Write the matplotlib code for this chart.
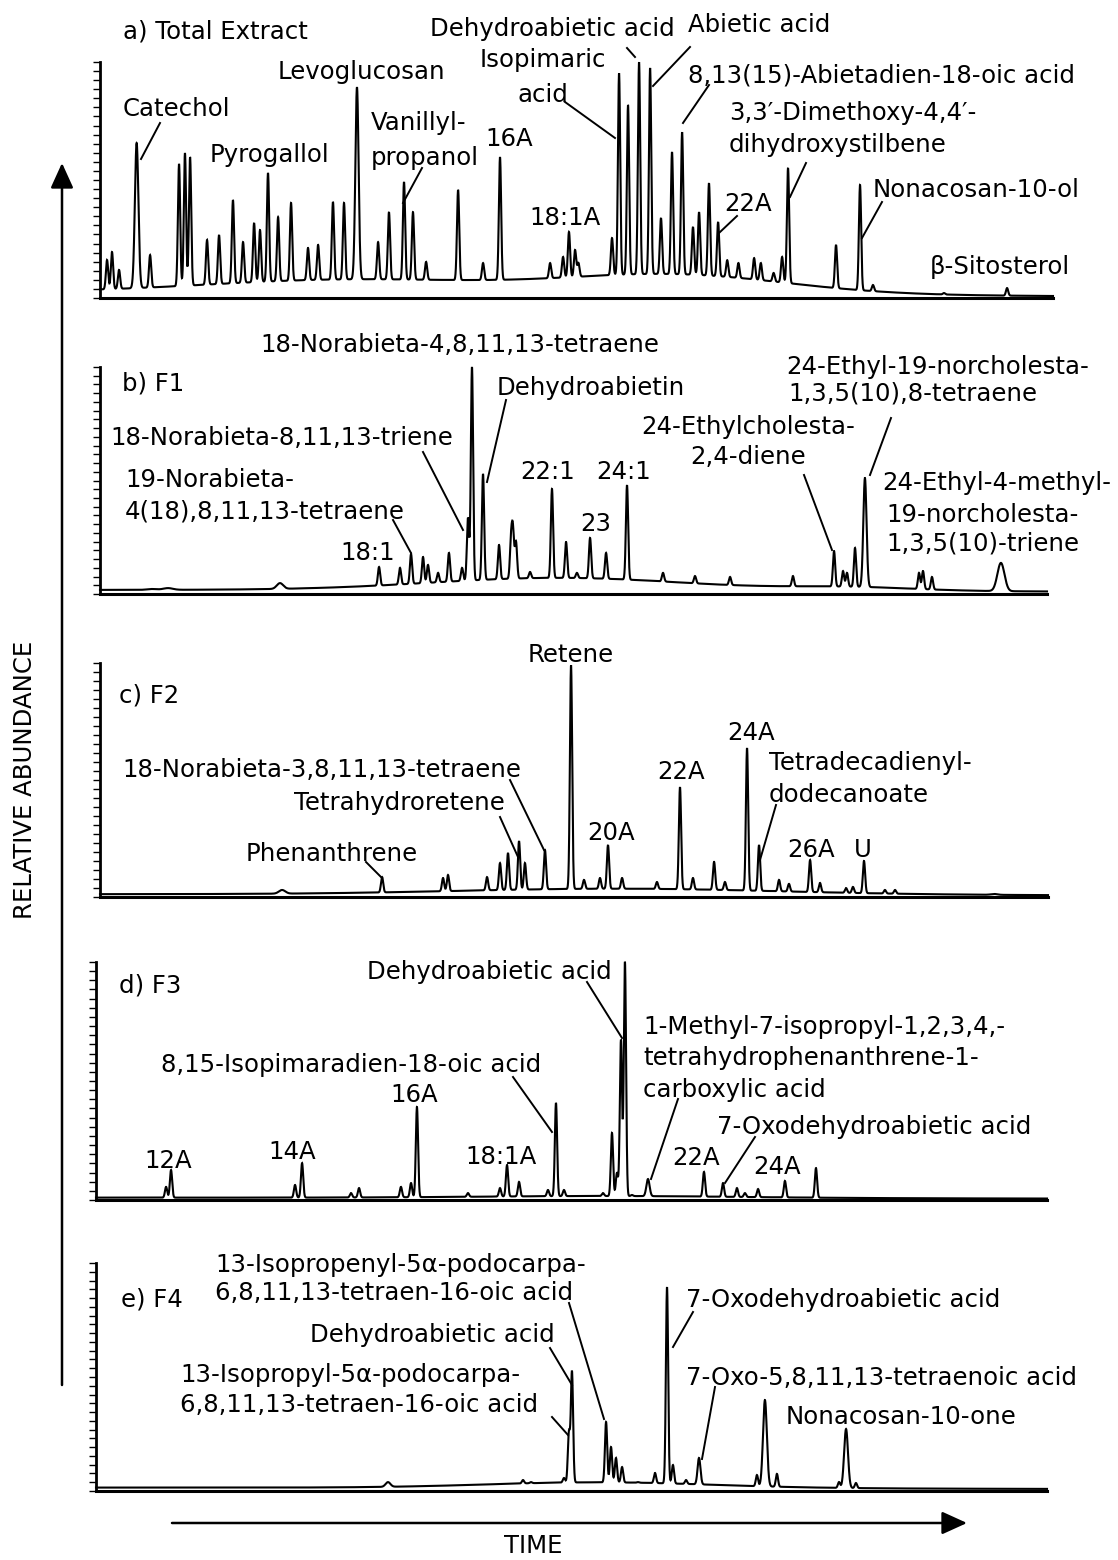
import numpy as np
import matplotlib
matplotlib.use("Agg")
import matplotlib.pyplot as plt
from matplotlib.lines import Line2D
from matplotlib.patches import FancyArrowPatch

plt.rcParams["font.family"] = ["DejaVu Sans"]

# ---------------------------------------------------------------------------
# Peak tables: retention time (min), apex height (% of panel full scale)
# ---------------------------------------------------------------------------
# a) Total extract
A_TIME = [0.44, 0.75, 1.19, 2.29, 3.13, 4.94, 5.31, 5.63, 6.69, 7.44,
          8.31, 8.94, 9.63, 10.0, 10.5, 11.13, 11.94, 13.0, 13.63, 14.56,
          15.25, 16.06, 17.38, 18.06, 19.0, 19.56, 20.38, 22.38, 23.94, 25.0,
          28.13, 28.94, 29.31, 29.69, 29.9, 32.0, 32.44, 33.0, 33.69, 34.38,
          35.06, 35.75, 36.38, 37.06, 37.44, 38.06, 38.63, 39.2, 39.9, 40.88,
          41.3, 42.1, 42.63, 43.0, 46.0, 47.5, 48.31, 52.75, 56.69]
A_HEIGHT = [16.1, 19.5, 11.9, 65.7, 18.2, 56.8, 61.4, 59.7, 24.6, 26.7,
            41.5, 23.7, 31.8, 28.8, 53.0, 34.3, 40.3, 21.2, 22.5, 40.7,
            40.3, 89.4, 23.7, 36.4, 49.2, 36.4, 15.3, 45.8, 14.8, 59.7,
            14.8, 17.4, 28.0, 20.3, 14.8, 25.4, 95.3, 81.8, 100.0, 97.5,
            33.9, 61.9, 70.3, 30.1, 36.4, 48.7, 32.2, 16.0, 14.8, 16.9,
            14.8, 10.6, 17.4, 55.1, 22.5, 47.9, 5.5, 2.1, 4.2]
A_BROAD = {2.29: 0.11, 16.06: 0.1}
A_BG_CENTER = [0.0, 16.0, 36.0]
A_BG_WIDTH = [40.0, 9.0, 7.0]
A_BG_HEIGHT = [2.5, 5.5, 8.0]

# b) F1
B_TIME = [3.25, 4.25, 11.25, 13.1, 17.44, 18.75, 19.44, 20.19, 20.5, 21.13,
          21.81, 22.63, 23.0, 23.25, 23.94, 24.94, 25.69, 25.81, 26.0, 26.88,
          28.25, 29.13, 29.81, 30.63, 31.63, 32.94, 35.19, 37.19, 39.38, 43.31,
          45.88, 46.44, 46.69, 47.19, 47.81, 51.19, 51.44, 52.0, 56.31]
B_HEIGHT = [2.2, 2.6, 4.8, 2.6, 11.9, 11.5, 17.6, 16.3, 12.8, 9.3,
            18.1, 11.5, 33.5, 100.0, 52.9, 21.6, 22.9, 26.9, 22.9, 9.7,
            46.3, 22.9, 9.3, 24.7, 18.1, 48.0, 9.3, 7.9, 7.5, 7.9,
            18.9, 10.1, 9.3, 20.3, 51.1, 9.3, 10.1, 7.5, 13.7]
B_BROAD = {3.25: 0.3, 4.25: 0.3, 11.25: 0.2, 13.1: 0.3, 47.81: 0.1, 56.31: 0.22}
B_BG_CENTER = [0.0, 28.75, 47.0]
B_BG_WIDTH = [60.0, 8.0, 4.0]
B_BG_HEIGHT = [1.8, 5.5, 1.5]

# c) F2
C_TIME = [11.38, 17.63, 21.44, 21.75, 24.19, 25.0, 25.5, 26.19, 26.56, 27.81,
          29.44, 30.25, 31.25, 31.75, 32.63, 34.81, 36.25, 37.06, 38.38, 39.06,
          40.44, 41.19, 42.44, 43.06, 44.38, 45.0, 46.63, 47.06, 47.75, 49.06,
          49.69, 55.88]
C_HEIGHT = [3.0, 8.5, 8.1, 9.4, 8.5, 14.5, 18.8, 23.9, 14.5, 20.1,
            99.1, 7.3, 8.1, 22.2, 8.1, 6.4, 47.0, 8.1, 15.0, 6.4,
            63.7, 22.2, 7.3, 5.6, 15.8, 6.0, 3.8, 4.3, 15.4, 3.0,
            3.0, 1.3]
C_BROAD = {11.38: 0.2, 55.88: 0.2}
C_BG_CENTER = [0.0, 32.5]
C_BG_WIDTH = [60.0, 10.0]
C_BG_HEIGHT = [1.2, 2.5]

# d) F3
D_TIME = [4.13, 4.44, 12.19, 12.63, 15.69, 16.19, 18.81, 19.44, 19.81, 23.0,
          25.0, 25.44, 26.19, 28.0, 28.5, 29.0, 31.44, 32.0, 32.31, 32.56,
          32.81, 33.25, 34.25, 37.75, 38.94, 39.81, 40.31, 41.13, 42.81, 44.75]
D_HEIGHT = [5.5, 12.6, 6.3, 15.5, 2.9, 5.0, 5.5, 7.1, 39.1, 2.9,
            5.0, 14.7, 7.6, 4.2, 40.8, 4.2, 2.9, 28.2, 11.3, 67.2,
            100.0, 2.1, 8.8, 11.8, 7.1, 5.0, 2.9, 4.6, 8.0, 13.4]
D_BROAD = {34.25: 0.1}
D_BG_CENTER = [0.0, 32.0]
D_BG_WIDTH = [60.0, 8.0]
D_BG_HEIGHT = [1.0, 0.8]

# e) F4
E_TIME = [18.0, 26.44, 26.94, 27.5, 29.0, 29.31, 29.5, 31.63, 31.94, 32.25,
          32.63, 33.63, 34.69, 35.44, 35.81, 36.63, 37.44, 41.06, 41.56, 42.31,
          46.19, 46.63, 47.25]
E_HEIGHT = [3.9, 4.8, 3.9, 3.5, 5.7, 25.4, 52.2, 30.3, 19.3, 14.5,
            10.5, 3.9, 7.9, 89.5, 11.4, 4.8, 14.5, 7.0, 39.9, 7.5,
            3.9, 27.2, 3.5]
E_BROAD = {18.0: 0.15, 41.56: 0.12, 46.63: 0.12, 37.44: 0.09}
E_BG_CENTER = [0.0, 31.25]
E_BG_WIDTH = [60.0, 7.0]
E_BG_HEIGHT = [1.5, 2.5]

PEAK_WIDTH = 0.07   # default Gaussian sigma of a peak, min

W, H = 1118, 1560
fig = plt.figure(figsize=(W / 100, H / 100), dpi=100)
fig.patch.set_facecolor("white")


def P(x, y):
    """Canvas pixel position -> figure fraction."""
    return x / W, 1 - y / H


def background(x, centers, widths, heights):
    x = np.asarray(x, dtype=float)
    out = np.zeros_like(x)
    for c, w, h in zip(centers, widths, heights):
        out += h * np.exp(-0.5 * ((x - c) / w) ** 2)
    return out


def chromatogram(t, times, heights, broad, bg):
    times = np.asarray(times, dtype=float)
    heights = np.asarray(heights, dtype=float)
    y = background(t, *bg)
    amps = heights - background(times, *bg)
    for ti, ai in zip(times, amps):
        wi = broad.get(float(ti), PEAK_WIDTH)
        y += ai * np.exp(-0.5 * ((t - ti) / wi) ** 2)
    return y


# panel frame: left, right, top, baseline (canvas px) and time range (min)
panels = [
    ((100, 1053, 62, 298), (0.0, 59.56), A_TIME, A_HEIGHT, A_BROAD,
     (A_BG_CENTER, A_BG_WIDTH, A_BG_HEIGHT)),
    ((100, 1047, 367, 594), (0.0, 59.19), B_TIME, B_HEIGHT, B_BROAD,
     (B_BG_CENTER, B_BG_WIDTH, B_BG_HEIGHT)),
    ((100, 1048, 663, 897), (0.0, 59.25), C_TIME, C_HEIGHT, C_BROAD,
     (C_BG_CENTER, C_BG_WIDTH, C_BG_HEIGHT)),
    ((96, 1047, 962, 1200), (-0.25, 59.19), D_TIME, D_HEIGHT, D_BROAD,
     (D_BG_CENTER, D_BG_WIDTH, D_BG_HEIGHT)),
    ((96, 1047, 1263, 1491), (-0.25, 59.19), E_TIME, E_HEIGHT, E_BROAD,
     (E_BG_CENTER, E_BG_WIDTH, E_BG_HEIGHT)),
]

for (l, r, top, base), xlim, times, heights, broad, bg in panels:
    ax = fig.add_axes([l / W, 1 - base / H, (r - l) / W, (base - top) / H])
    t = np.linspace(xlim[0], xlim[1], 14000)
    y = chromatogram(t, times, heights, broad, bg)
    ax.plot(t, y, color="black", lw=1.5, clip_on=False, solid_joinstyle="miter")
    ax.set_xlim(*xlim)
    ax.set_ylim(0, 100)
    for side in ("top", "right"):
        ax.spines[side].set_visible(False)
    ax.spines["left"].set_linewidth(2.0)
    ax.spines["bottom"].set_linewidth(2.2)
    ax.set_yticks(np.linspace(0, 100, 27))
    ax.set_xticks([])
    ax.tick_params(axis="y", direction="out", length=5, width=1.0,
                   labelleft=False)
    ax.patch.set_alpha(0)

FS = 17.6

# compound labels: text, x (px), y centre (px), alignment
labels = [
    # a
    ("a) Total Extract", 123, 32, "left"),
    ("Catechol", 123, 109, "left"),
    ("Levoglucosan", 278, 72, "left"),
    ("Pyrogallol", 210, 155, "left"),
    ("Vanillyl-", 371, 123, "left"),
    ("propanol", 371, 158, "left"),
    ("16A", 485, 139, "left"),
    ("18:1A", 529, 218, "left"),
    ("Isopimaric", 543, 60, "center"),
    ("acid", 543, 95, "center"),
    ("Dehydroabietic acid", 430, 29, "left"),
    ("Abietic acid", 688, 25, "left"),
    ("8,13(15)-Abietadien-18-oic acid", 688, 75, "left"),
    ("3,3\u2032-Dimethoxy-4,4\u2032-", 729, 113, "left"),
    ("dihydroxystilbene", 729, 145, "left"),
    ("22A", 724, 204, "left"),
    ("Nonacosan-10-ol", 873, 190, "left"),
    ("\u03b2-Sitosterol", 930, 267, "left"),
    # b
    ("b) F1", 122, 383, "left"),
    ("18-Norabieta-4,8,11,13-tetraene", 260, 345, "left"),
    ("Dehydroabietin", 497, 388, "left"),
    ("18-Norabieta-8,11,13-triene", 110, 438, "left"),
    ("19-Norabieta-", 125, 480, "left"),
    ("4(18),8,11,13-tetraene", 125, 512, "left"),
    ("18:1", 340, 553, "left"),
    ("22:1", 520, 472, "left"),
    ("23", 580, 524, "left"),
    ("24:1", 596, 472, "left"),
    ("24-Ethylcholesta-", 748, 427, "center"),
    ("2,4-diene", 748, 457, "center"),
    ("24-Ethyl-19-norcholesta-", 786, 367, "left"),
    ("1,3,5(10),8-tetraene", 788, 394, "left"),
    ("24-Ethyl-4-methyl-", 882, 483, "left"),
    ("19-norcholesta-", 886, 515, "left"),
    ("1,3,5(10)-triene", 886, 544, "left"),
    # c
    ("c) F2", 119, 695, "left"),
    ("Retene", 528, 655, "left"),
    ("18-Norabieta-3,8,11,13-tetraene", 122, 770, "left"),
    ("Tetrahydroretene", 294, 803, "left"),
    ("Phenanthrene", 246, 854, "left"),
    ("20A", 587, 833, "left"),
    ("22A", 657, 772, "left"),
    ("24A", 727, 733, "left"),
    ("Tetradecadienyl-", 769, 763, "left"),
    ("dodecanoate", 769, 795, "left"),
    ("26A", 787, 850, "left"),
    ("U", 854, 850, "left"),
    # d
    ("d) F3", 119, 985, "left"),
    ("Dehydroabietic acid", 367, 972, "left"),
    ("1-Methyl-7-isopropyl-1,2,3,4,-", 643, 1027, "left"),
    ("tetrahydrophenanthrene-1-", 643, 1058, "left"),
    ("carboxylic acid", 643, 1090, "left"),
    ("8,15-Isopimaradien-18-oic acid", 161, 1065, "left"),
    ("16A", 390, 1095, "left"),
    ("12A", 144, 1161, "left"),
    ("14A", 268, 1152, "left"),
    ("18:1A", 465, 1157, "left"),
    ("22A", 672, 1158, "left"),
    ("7-Oxodehydroabietic acid", 717, 1127, "left"),
    ("24A", 753, 1167, "left"),
    # e
    ("e) F4", 121, 1300, "left"),
    ("13-Isopropenyl-5\u03b1-podocarpa-", 215, 1265, "left"),
    ("6,8,11,13-tetraen-16-oic acid", 215, 1293, "left"),
    ("Dehydroabietic acid", 310, 1335, "left"),
    ("13-Isopropyl-5\u03b1-podocarpa-", 180, 1375, "left"),
    ("6,8,11,13-tetraen-16-oic acid", 180, 1405, "left"),
    ("7-Oxodehydroabietic acid", 686, 1300, "left"),
    ("7-Oxo-5,8,11,13-tetraenoic acid", 686, 1378, "left"),
    ("Nonacosan-10-one", 786, 1417, "left"),
]
for text, x, y, ha in labels:
    fig.text(*P(x, y), text, ha=ha, va="center", fontsize=FS, color="black")

# leader lines from labels to their peaks (px)
leaders = [
    (160, 123, 141, 159), (422, 168, 403, 203), (565, 102, 615, 138),
    (627, 48, 635, 57), (690, 47, 653, 86), (709, 85, 683, 123),
    (806, 163, 790, 197), (737, 216, 719, 233), (882, 202, 862, 238),
    (506, 400, 487, 482), (423, 452, 463, 530), (393, 520, 411, 553),
    (804, 475, 832, 550), (891, 418, 870, 475),
    (510, 780, 544, 850), (500, 817, 518, 857), (366, 862, 382, 878),
    (776, 805, 760, 860),
    (587, 982, 622, 1038), (678, 1099, 651, 1179), (513, 1077, 552, 1132),
    (755, 1137, 725, 1183),
    (569, 1303, 604, 1419), (550, 1348, 572, 1385), (552, 1417, 568, 1435),
    (693, 1312, 673, 1347), (715, 1387, 702, 1459),
]
for x1, y1, x2, y2 in leaders:
    (fx1, fy1), (fx2, fy2) = P(x1, y1), P(x2, y2)
    fig.add_artist(Line2D([fx1, fx2], [fy1, fy2], transform=fig.transFigure,
                          color="black", lw=1.4))

# axis arrows and titles
arrow_style = "-|>,head_length=0.55,head_width=0.25"
fig.add_artist(FancyArrowPatch(P(62, 1385), P(62, 163), transform=fig.transFigure,
                               arrowstyle=arrow_style, mutation_scale=28,
                               lw=1.8, color="black", shrinkA=0, shrinkB=0))
fig.add_artist(FancyArrowPatch(P(172, 1523), P(967, 1523), transform=fig.transFigure,
                               arrowstyle=arrow_style, mutation_scale=28,
                               lw=1.8, color="black", shrinkA=0, shrinkB=0))
fig.text(*P(25, 780), "RELATIVE ABUNDANCE", rotation=90, ha="center",
         va="center", fontsize=FS)
fig.text(*P(533, 1546), "TIME", ha="center", va="center", fontsize=FS)

fig.savefig("out.png", dpi=100, facecolor="white")
